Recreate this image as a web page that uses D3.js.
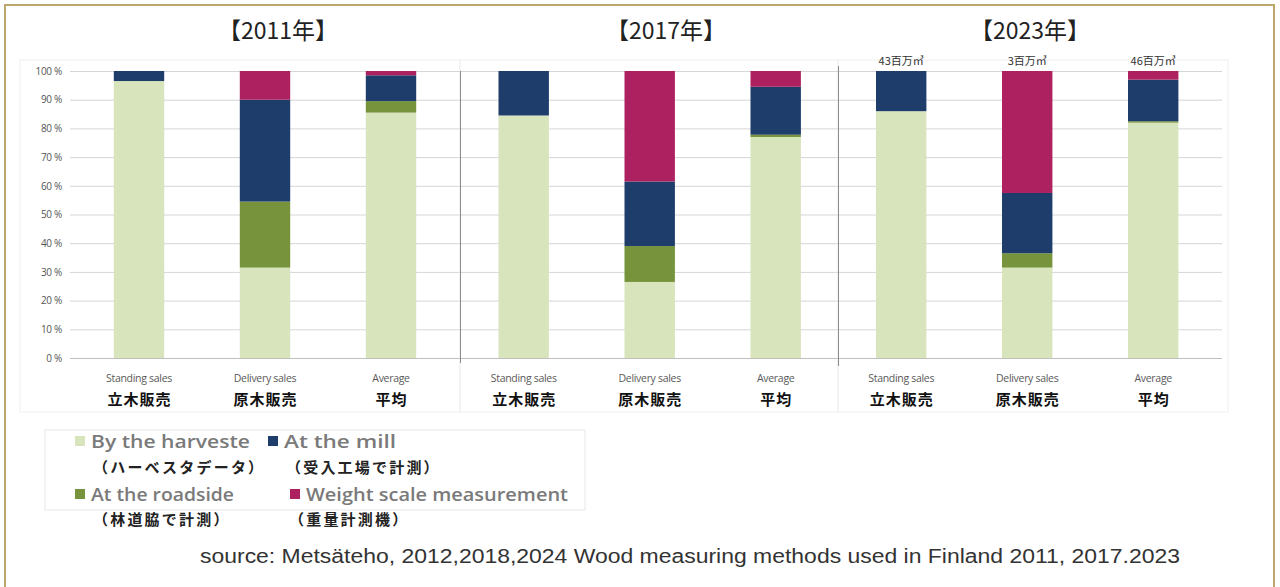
<!DOCTYPE html>
<html><head><meta charset="utf-8">
<script src="https://cdn.jsdelivr.net/npm/d3@7/dist/d3.min.js"></script>
<style>html,body{margin:0;padding:0;background:#fff;}svg{display:block;}</style>
</head><body>
<svg id="chart" width="1280" height="587"></svg>
<script>
// ---- data ----
const years = ["2011", "2017", "2023"];
const titles = ["【2011年】", "【2017年】", "【2023年】"];
const categoriesEn = ["Standing sales", "Delivery sales", "Average"];
const categoriesJa = ["立木販売", "原木販売", "平均"];
const seriesKeys = ["harvester", "roadside", "mill", "weight"];
const seriesEn = ["By the harvester", "At the roadside", "At the mill", "Weight scale measurement"];
const seriesJa = ["（ハーベスタデータ）", "（林道脇で計測）", "（受入工場で計測）", "（重量計測機）"];
// values per year: [Standing, Delivery, Average] in %
const harvester = [[96.5, 31.5, 85.5], [84.5, 26.5, 77.0], [86.0, 31.5, 82.0]];
const roadside  = [[0.0, 23.0, 4.0],   [0.0, 12.5, 0.8],   [0.0, 5.0, 0.5]];
const mill      = [[3.5, 35.5, 9.0],   [15.5, 22.5, 16.7], [14.0, 21.0, 14.5]];
const weight    = [[0.0, 10.0, 1.5],   [0.0, 38.5, 5.5],   [0.0, 42.5, 3.0]];
const volumeLabels2023 = ["43百万㎥", "3百万㎥", "46百万㎥"];
const yTicks = [0, 10, 20, 30, 40, 50, 60, 70, 80, 90, 100];
const sourceText = "source: Metsäteho, 2012,2018,2024  Wood measuring methods used in Finland 2011, 2017.2023";

const colors = {harvester: "#d8e4bc", roadside: "#77933c", mill: "#1f3d6b", weight: "#ae2160"};
const seriesData = {harvester, roadside, mill, weight};

// ---- layout ----
const svg = d3.select("#chart");
const font = "'Noto Sans CJK JP', 'Noto Sans', sans-serif";
svg.append("rect").attr("x", 5).attr("y", 5).attr("width", 1269).attr("height", 600)
  .attr("fill", "#fff").attr("stroke", "#bda76b").attr("stroke-width", 2);

const y = d3.scaleLinear().domain([0, 100]).range([358, 71]);
const panels = [
  {band: [76, 454], grid: [70, 460], title: 278},
  {band: [460.7, 838.7], grid: [460, 838], title: 666},
  {band: [838.2, 1216.2], grid: [838, 1222], title: 1030}
];

[[20, 460], [460, 838], [838, 1228]].forEach(([a, b]) => {
  svg.append("rect").attr("x", a).attr("y", 60).attr("width", b - a).attr("height", 352)
    .attr("fill", "none").attr("stroke", "#f0f0f0");
});

const stack = d3.stack().keys(seriesKeys);

panels.forEach((p, pi) => {
  const g = svg.append("g");
  const x = d3.scaleBand().domain(categoriesEn).range(p.band).paddingInner(0.6).paddingOuter(0.3);
  const grid = d3.axisLeft(y).tickValues(yTicks).tickSize(-(p.grid[1] - p.grid[0])).tickFormat("");
  const gg = g.append("g").attr("transform", `translate(${p.grid[0]},0)`).call(grid);
  gg.select(".domain").remove();
  gg.selectAll(".tick line").attr("stroke", d => d === 0 ? "#bfbfbf" : "#d6d6d6");

  const rows = categoriesEn.map((c, ci) => {
    const r = {cat: c};
    seriesKeys.forEach(k => r[k] = seriesData[k][pi][ci]);
    return r;
  });
  const layers = stack(rows);
  layers.forEach(layer => {
    g.selectAll(null).data(layer).join("rect")
      .attr("x", d => x(d.data.cat))
      .attr("width", x.bandwidth())
      .attr("y", d => y(d[1]))
      .attr("height", d => Math.max(0, y(d[0]) - y(d[1])))
      .attr("fill", colors[layer.key]);
  });

  svg.append("text").attr("x", p.title).attr("y", 39).attr("text-anchor", "middle")
    .attr("font-family", font).attr("font-size", 23).attr("fill", "#222").text(titles[pi]);

  categoriesEn.forEach((c, ci) => {
    const cx = x(c) + x.bandwidth() / 2;
    svg.append("text").attr("x", cx).attr("y", 382).attr("text-anchor", "middle")
      .attr("font-family", "'Open Sans', sans-serif").attr("font-size", 10.5).attr("letter-spacing", -0.3)
      .attr("fill", "#595959").text(c);
    svg.append("text").attr("x", cx + 0.5).attr("y", 405).attr("text-anchor", "middle")
      .attr("font-family", font).attr("font-size", 15).attr("font-weight", "bold").attr("letter-spacing", 1)
      .attr("fill", "#111").text(categoriesJa[ci]);
    if (pi === 2) {
      svg.append("text").attr("x", cx).attr("y", 65).attr("text-anchor", "middle")
        .attr("font-family", font).attr("font-size", 11).attr("fill", "#333").text(volumeLabels2023[ci]);
    }
  });
});

const ya = d3.axisLeft(y).tickValues(yTicks).tickSize(0).tickPadding(0).tickFormat(d => d + " %");
const yg = svg.append("g").attr("transform", "translate(62,0)").call(ya);
yg.select(".domain").remove();
yg.selectAll("text").attr("font-family", "'Open Sans', sans-serif").attr("font-size", 10)
  .attr("letter-spacing", -0.3).attr("fill", "#555");

svg.append("line").attr("x1", 460.5).attr("x2", 460.5).attr("y1", 71).attr("y2", 363).attr("stroke", "#8c8c8c");
svg.append("line").attr("x1", 838.5).attr("x2", 838.5).attr("y1", 66).attr("y2", 366).attr("stroke", "#8c8c8c");

// legend
svg.append("rect").attr("x", 45).attr("y", 430).attr("width", 540).attr("height", 80)
  .attr("fill", "none").attr("stroke", "#e8e8e8");
const legendPos = {
  harvester: {sx: 75, ty: 448, w: 168, jx: 93, jy: 473, clip: 250},
  mill:      {sx: 268, ty: 448, w: 112, jx: 286, jy: 473},
  roadside:  {sx: 75, ty: 501, w: 143, jx: 93, jy: 525},
  weight:    {sx: 290, ty: 501, w: 262, jx: 289, jy: 525}
};
svg.append("clipPath").attr("id", "clipH").append("rect").attr("x", 70).attr("y", 425).attr("width", 181).attr("height", 30);
seriesKeys.forEach((k, i) => {
  const p = legendPos[k];
  svg.append("rect").attr("x", p.sx).attr("y", p.ty - 12).attr("width", 10).attr("height", 10).attr("fill", colors[k]);
  const t = svg.append("text").attr("x", p.sx + 16).attr("y", p.ty)
    .attr("font-family", "'Open Sans', sans-serif").attr("font-size", 18).attr("font-weight", 600)
    .attr("fill", "#7a7a7a").attr("textLength", p.w).attr("lengthAdjust", "spacingAndGlyphs").text(seriesEn[i]);
  if (p.clip) t.attr("clip-path", "url(#clipH)");
  svg.append("text").attr("x", p.jx).attr("y", p.jy)
    .attr("font-family", font).attr("font-size", 15).attr("font-weight", "bold").attr("letter-spacing", 2.2)
    .attr("fill", "#222").text(seriesJa[i]);
});

svg.append("text").attr("x", 200).attr("y", 563).attr("font-family", "'Liberation Sans', Arial, sans-serif")
  .attr("font-size", 20).attr("fill", "#333").attr("textLength", 980).attr("lengthAdjust", "spacingAndGlyphs")
  .text(sourceText);
</script>
</body></html>
